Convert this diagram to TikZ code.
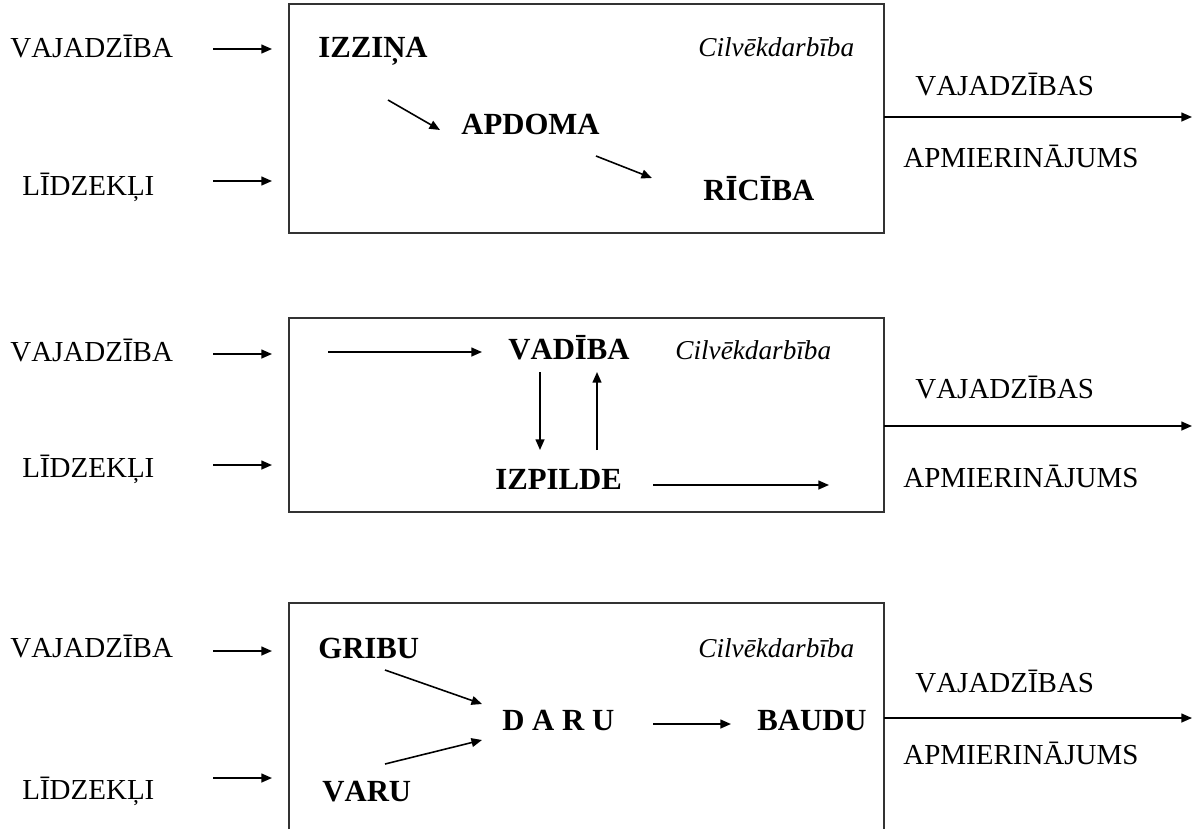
\documentclass[tikz,border=0pt]{standalone}
\usepackage{fontspec}
\setmainfont{Liberation Serif}[Kerning=Off]
\usepackage{tikz}
\usetikzlibrary{arrows.meta, positioning, calc}

\begin{document}
\begin{tikzpicture}[x=0.02cm, y=-0.02cm,
  lbl/.style={font=\fontsize{16.5}{19}\selectfont, anchor=base west, inner sep=0pt},
  stage/.style={font=\fontsize{17.5}{21}\selectfont\bfseries, anchor=base west, inner sep=0pt},
  act/.style={font=\fontsize{15.5}{19}\selectfont\itshape, anchor=base west, inner sep=0pt},
  arr/.style={-{Triangle[length=6pt,width=5pt]}, line width=0.9pt},
  frame/.style={line width=0.7pt, black!80}]
\useasboundingbox (0,0) rectangle (1196,829);

% first panel: izzina - apdoma - riciba
\draw[frame] (289,4) rectangle (884,233);
\node[lbl] (p1need) at (10,57) {VAJADZĪBA};
\node[lbl] (p1means) at (22,195) {LĪDZEKĻI};
\node[stage] (p1izz) at (318,57) {IZZIŅA};
\node[act] (p1act) at (698,56) {Cilvēkdarbība};
\node[stage] (p1apd) at (461,134) {APDOMA};
\node[stage] (p1ric) at (703,200) {RĪCĪBA};
\node[lbl] (p1outa) at (915,95) {VAJADZĪBAS};
\node[lbl] (p1outb) at (903,167) {APMIERINĀJUMS};
\coordinate (p1a) at (213,49);  \coordinate (p1b) at (272,49);
\coordinate (p1c) at (213,181); \coordinate (p1d) at (272,181);
\coordinate (p1e) at (388,100); \coordinate (p1f) at (440,130);
\coordinate (p1g) at (596,156); \coordinate (p1h) at (652,178);
\coordinate (p1i) at (884,117); \coordinate (p1j) at (1192,117);
\draw[arr] (p1a) -- (p1b);
\draw[arr] (p1c) -- (p1d);
\draw[arr] (p1e) -- (p1f);
\draw[arr] (p1g) -- (p1h);
\draw[arr] (p1i) -- (p1j);

% second panel: vadiba - izpilde
\draw[frame] (289,318) rectangle (884,512);
\node[lbl] (p2need) at (10,361) {VAJADZĪBA};
\node[lbl] (p2means) at (22,477) {LĪDZEKĻI};
\node[stage] (p2vad) at (508,359) {VADĪBA};
\node[act] (p2act) at (675,359) {Cilvēkdarbība};
\node[stage] (p2izp) at (495,489) {IZPILDE};
\node[lbl] (p2outa) at (915,398) {VAJADZĪBAS};
\node[lbl] (p2outb) at (903,487) {APMIERINĀJUMS};
\coordinate (p2a) at (213,354); \coordinate (p2b) at (272,354);
\coordinate (p2c) at (213,465); \coordinate (p2d) at (272,465);
\coordinate (p2e) at (328,352); \coordinate (p2f) at (482,352);
\coordinate (p2g) at (540,372); \coordinate (p2h) at (540,450);
\coordinate (p2k) at (597,450); \coordinate (p2l) at (597,372);
\coordinate (p2m) at (653,485); \coordinate (p2n) at (829,485);
\coordinate (p2i) at (884,426); \coordinate (p2j) at (1192,426);
\draw[arr] (p2a) -- (p2b);
\draw[arr] (p2c) -- (p2d);
\draw[arr] (p2e) -- (p2f);
\draw[arr] (p2g) -- (p2h);
\draw[arr] (p2k) -- (p2l);
\draw[arr] (p2m) -- (p2n);
\draw[arr] (p2i) -- (p2j);

% third panel: gribu, varu - daru - baudu
\draw[frame] (289,829) -- (289,603) -- (884,603) -- (884,829);
\node[lbl] (p3need) at (10,657) {VAJADZĪBA};
\node[lbl] (p3means) at (22,799) {LĪDZEKĻI};
\node[stage] (p3gri) at (318,658) {GRIBU};
\node[act] (p3act) at (698,657) {Cilvēkdarbība};
\node[stage] (p3dar) at (502,730) {D A R U};
\node[stage] (p3bau) at (757,730) {BAUDU};
\node[stage] (p3var) at (322,801) {VARU};
\node[lbl] (p3outa) at (915,692) {VAJADZĪBAS};
\node[lbl] (p3outb) at (903,764) {APMIERINĀJUMS};
\coordinate (p3a) at (213,651); \coordinate (p3b) at (272,651);
\coordinate (p3c) at (213,778); \coordinate (p3d) at (272,778);
\coordinate (p3e) at (385,670); \coordinate (p3f) at (482,704);
\coordinate (p3g) at (385,764); \coordinate (p3h) at (482,740);
\coordinate (p3k) at (653,724); \coordinate (p3l) at (731,724);
\coordinate (p3i) at (884,718); \coordinate (p3j) at (1192,718);
\draw[arr] (p3a) -- (p3b);
\draw[arr] (p3c) -- (p3d);
\draw[arr] (p3e) -- (p3f);
\draw[arr] (p3g) -- (p3h);
\draw[arr] (p3k) -- (p3l);
\draw[arr] (p3i) -- (p3j);
\end{tikzpicture}
\end{document}
